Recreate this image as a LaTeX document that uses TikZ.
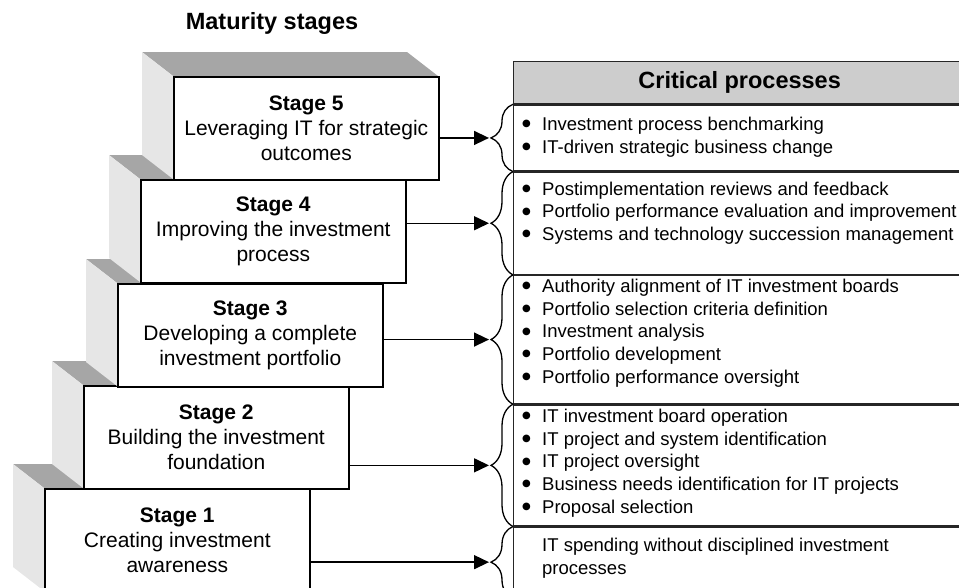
\documentclass[tikz,border=0pt]{standalone}
\usepackage{fontspec}
\setmainfont{Liberation Sans}
\newfontfamily\dotfont{DejaVu Sans}
\usepackage{tikz}
\usetikzlibrary{calc}
\usetikzlibrary{positioning}
\usetikzlibrary{arrows.meta}
\usetikzlibrary{decorations.pathreplacing}
\definecolor{topface}{HTML}{A6A6A6}
\definecolor{sideface}{HTML}{E6E6E6}
\definecolor{headgray}{HTML}{CDCDCD}
\tikzset{
  stagebox/.style={draw, line width=1.6pt, fill=white, minimum width=265pt, minimum height=103pt, inner sep=0pt, align=center, anchor=north west, font=\fontsize{21}{25}\selectfont},
  procrow/.style={draw=black!85, line width=1.3pt, minimum width=452pt, inner sep=0pt, anchor=north west},
  proclist/.style={anchor=west, align=left, inner sep=0pt, font=\fontsize{18.5}{22.7}\selectfont},
  link/.style={-{Triangle[length=15pt,width=14pt]}, line width=1.5pt},
  curly/.style={decorate, decoration={brace, amplitude=22pt}, line width=1.3pt},
}
% round bullet in front of each process
\newcommand{\itm}{\makebox[20pt][l]{\raisebox{3.5pt}{\dotfont\fontsize{10}{0}\selectfont ●}}}

\begin{document}
\begin{tikzpicture}[x=1pt, y=-1pt]
\clip (0,0) rectangle (959,587);
\def \depthx {-31}
\def \depthy {-24}
\node[font=\bfseries\fontsize{23.5}{28}\selectfont] (title) at (272,23) {Maturity stages};
% staircase, bottom step first so the upper faces overlap
\foreach \n/\x/\y/\txt in {1/44/488/{Creating investment\\awareness},
                           2/83/385/{Building the investment\\foundation},
                           3/117/283/{Developing a complete\\investment portfolio},
                           4/140/179/{Improving the investment\\process},
                           5/173/76/{Leveraging IT for strategic\\outcomes}}{
  \fill[topface] (\x,\y) -- ++(\depthx,\depthy) -- ++(265,0) -- ++(-\depthx,-\depthy) -- cycle;
  \fill[sideface] (\x,\y) -- ++(\depthx,\depthy) -- ++(0,103) -- ++(-\depthx,-\depthy) -- cycle;
  \node[stagebox] (s\n) at (\x,\y) {\textbf{Stage \n}\\\txt};
}
% critical processes table
\node[procrow, fill=headgray, minimum height=42pt, font=\bfseries\fontsize{23.5}{28}\selectfont] (head) at (513,61) {Critical processes};
\node[procrow, minimum height=66pt] (r5) at (head.south west) {};
\node[procrow, minimum height=102pt] (r4) at (r5.south west) {};
\node[procrow, minimum height=128pt] (r3) at (r4.south west) {};
\node[procrow, minimum height=121pt] (r2) at (r3.south west) {};
\node[procrow, minimum height=70pt] (r1) at (r2.south west) {};
\node[proclist] (l5) at (522,137) {\itm Investment process benchmarking\\
  \itm IT-driven strategic business change};
\node[proclist] (l4) at (522,213) {\itm Postimplementation reviews and feedback\\
  \itm Portfolio performance evaluation and improvement\\
  \itm Systems and technology succession management};
\node[proclist] (l3) at (522,333) {\itm Authority alignment of IT investment boards\\
  \itm Portfolio selection criteria definition\\
  \itm Investment analysis\\
  \itm Portfolio development\\
  \itm Portfolio performance oversight};
\node[proclist] (l2) at (522,463) {\itm IT investment board operation\\
  \itm IT project and system identification\\
  \itm IT project oversight\\
  \itm Business needs identification for IT projects\\
  \itm Proposal selection};
\node[proclist] (l1) at (542,558) {IT spending without disciplined investment\\processes};
% braces and arrows
\foreach \n in {1,...,5}{
  \draw[curly] (r\n.south west) -- (r\n.north west);
  \coordinate (t\n) at ([xshift=-24pt]r\n.west);
  \draw[link] (s\n.east |- t\n) -- (t\n);
}
\end{tikzpicture}
\end{document}
